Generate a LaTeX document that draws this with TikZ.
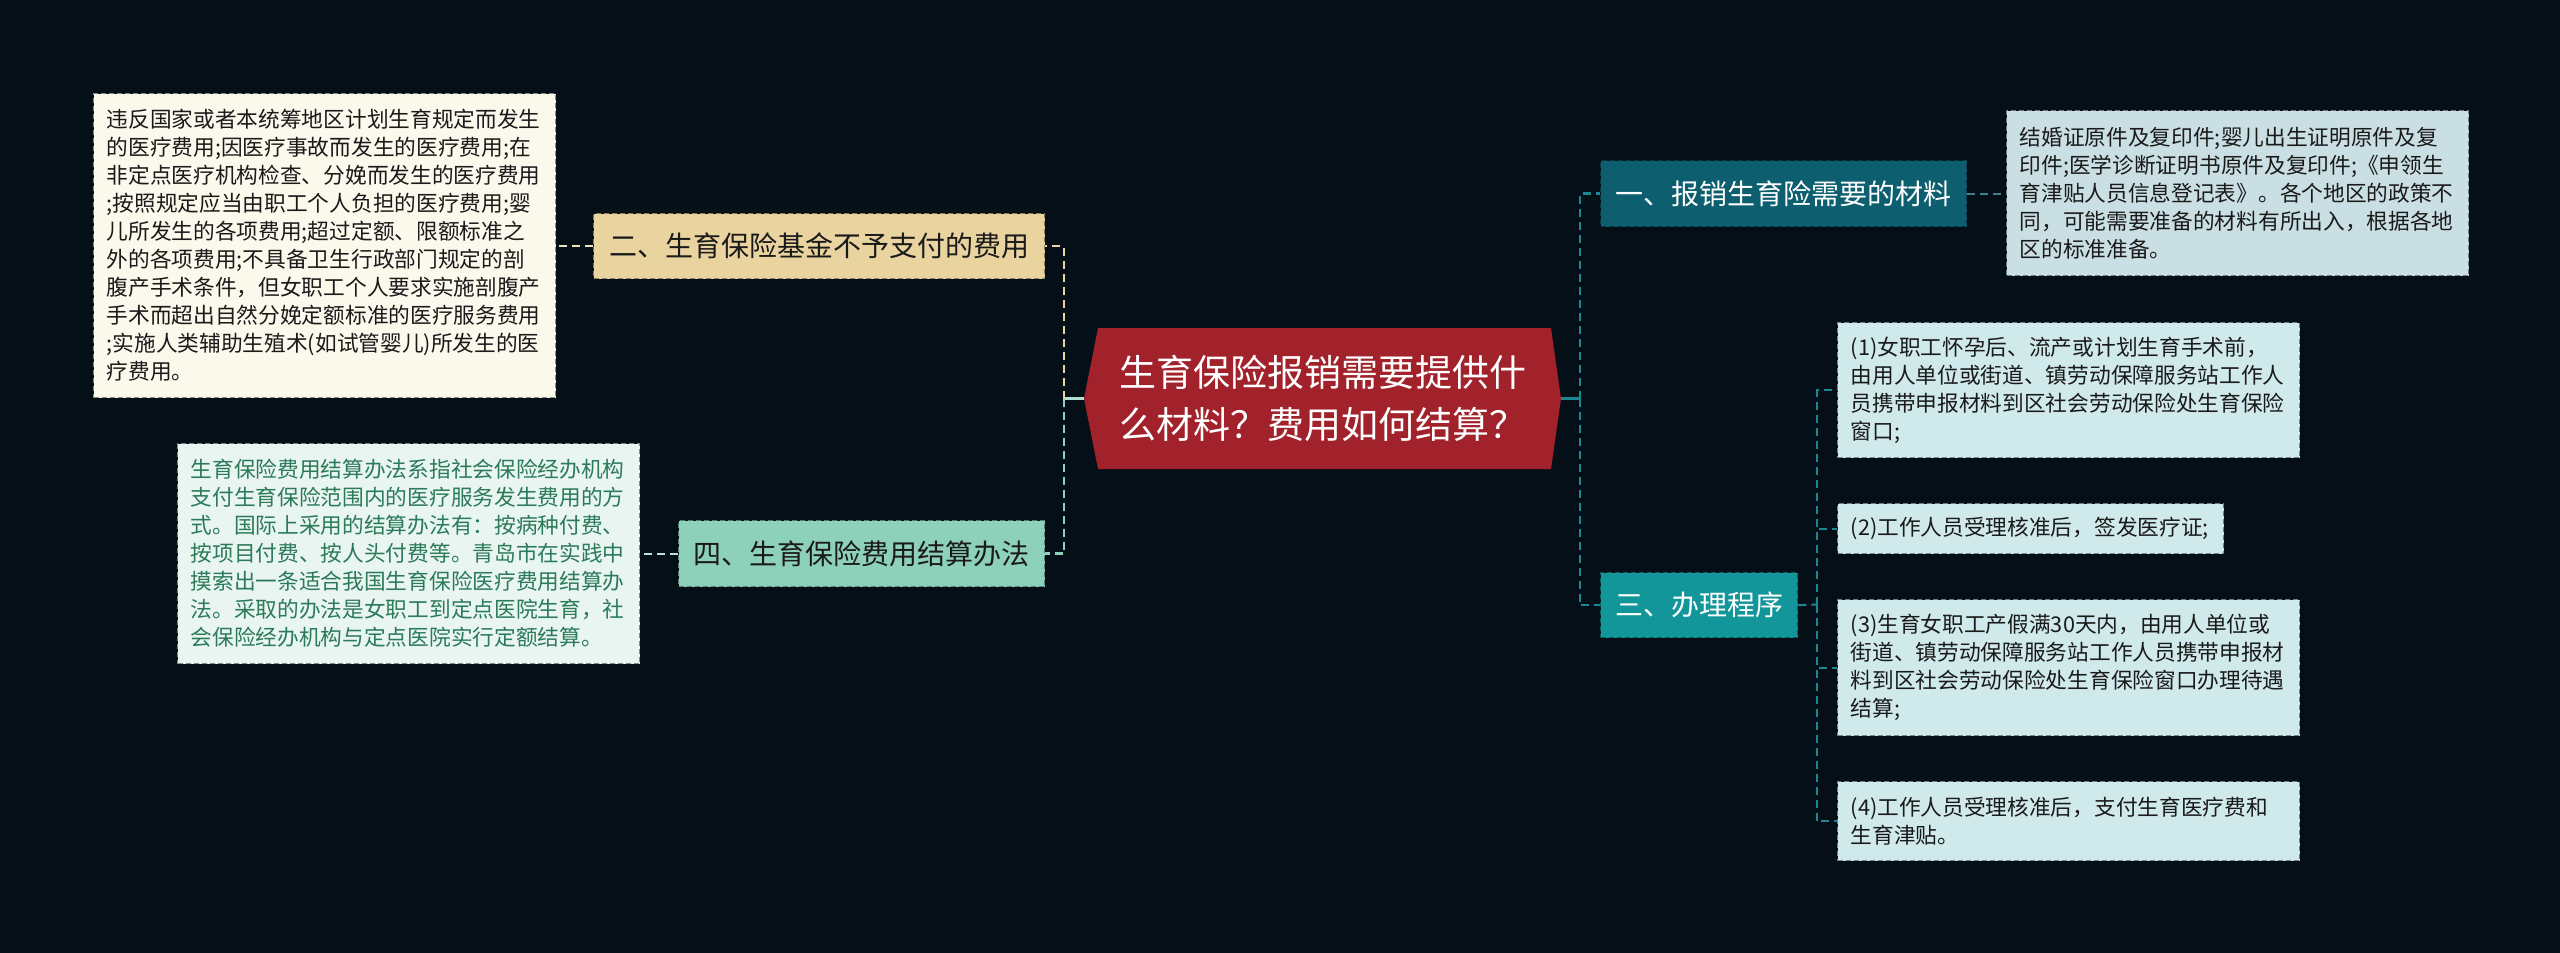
\documentclass[tikz,border=0pt]{standalone}
\usepackage{fontspec}
\newfontfamily\cjk{Noto Sans CJK SC}
\definecolor{bgc}{HTML}{050F18}
\definecolor{cred}{HTML}{A1222A}
\definecolor{ltfill}{HTML}{FBF8EC}
\definecolor{lbfill}{HTML}{E9F5F1}
\definecolor{lbtext}{HTML}{2B7A5A}
\definecolor{rtfill}{HTML}{CADFE3}
\definecolor{kfill}{HTML}{D0E9EB}
\definecolor{ytwo}{HTML}{E9D4A0}
\definecolor{mfour}{HTML}{8ED1BB}
\definecolor{tone}{HTML}{0D5F6F}
\definecolor{tthree}{HTML}{13969A}
\definecolor{lkT}{HTML}{1D8791}
\definecolor{dtext}{HTML}{1A1A1A}
\begin{document}
\begin{tikzpicture}[x=1pt,y=-1pt,
  leaf/.style={draw=#1!55!black, dash pattern=on 5pt off 3pt, line width=1.3pt,
    fill=#1, anchor=north west, align=left, inner xsep=13pt, inner ysep=0pt,
    text=dtext, font=\cjk\fontsize{21.7}{28}\selectfont},
  branch/.style={draw=#1!60!black, dash pattern=on 5pt off 3pt, line width=1.3pt,
    fill=#1, anchor=north west, align=center, inner sep=0pt,
    text=dtext, font=\cjk\fontsize{28}{34}\selectfont},
  link/.style={draw=#1, line width=2.6pt, dash pattern=on 8pt off 5pt},
  thinlink/.style={draw=#1, line width=2pt, dash pattern=on 8pt off 5pt},
  stub/.style={draw=#1, line width=2.6pt}
]
\fill[bgc] (0,0) rectangle (2560,953);
\useasboundingbox (0,0) rectangle (2560,953);

% central topic
\fill[cred] (1084,398.5) -- (1098,328) -- (1551,328) -- (1561,398.5) -- (1551,469) -- (1098,469) -- cycle;
\node[align=center, text=white, font=\cjk\fontsize{37}{52}\selectfont,
  minimum width=477pt, minimum height=141pt, inner sep=0pt] (c) at (1322.5,398.5)
  {生育保险报销需要提供什\\么材料？费用如何结算？};

% branches
\node[branch=ytwo, minimum width=451pt, minimum height=65pt] (n2) at (593,213) {二、生育保险基金不予支付的费用};
\node[branch=mfour, minimum width=366pt, minimum height=66pt] (n4) at (678,520) {四、生育保险费用结算办法};
\node[branch=tone, text=white, minimum width=366pt, minimum height=66pt] (n1) at (1600,160) {一、报销生育险需要的材料};
\node[branch=tthree, text=white, minimum width=197pt, minimum height=65pt] (n3) at (1600,572) {三、办理程序};

% leaves
\node[leaf=ltfill, minimum width=460pt, minimum height=304pt, text width=436pt] (lt) at (93,93)
{违反国家或者本统筹地区计划生育规定而发生\\
的医疗费用;因医疗事故而发生的医疗费用;在\\
非定点医疗机构检查、分娩而发生的医疗费用\\
;按照规定应当由职工个人负担的医疗费用;婴\\
儿所发生的各项费用;超过定额、限额标准之\\
外的各项费用;不具备卫生行政部门规定的剖\\
腹产手术条件，但女职工个人要求实施剖腹产\\
手术而超出自然分娩定额标准的医疗服务费用\\
;实施人类辅助生殖术(如试管婴儿)所发生的医\\
疗费用。};

\node[leaf=lbfill, text=lbtext, minimum width=461pt, minimum height=220pt, text width=436pt] (lb) at (177,443)
{生育保险费用结算办法系指社会保险经办机构\\
支付生育保险范围内的医疗服务发生费用的方\\
式。国际上采用的结算办法有：按病种付费、\\
按项目付费、按人头付费等。青岛市在实践中\\
摸索出一条适合我国生育保险医疗费用结算办\\
法。采取的办法是女职工到定点医院生育，社\\
会保险经办机构与定点医院实行定额结算。};

\node[leaf=rtfill, minimum width=461pt, minimum height=165pt, text width=436pt] (rt) at (2006,110)
{结婚证原件及复印件;婴儿出生证明原件及复\\
印件;医学诊断证明书原件及复印件;《申领生\\
育津贴人员信息登记表》。各个地区的政策不\\
同，可能需要准备的材料有所出入，根据各地\\
区的标准准备。};

\node[leaf=kfill, minimum width=461pt, minimum height=135pt, text width=436pt] (k1) at (1837,322)
{(1)女职工怀孕后、流产或计划生育手术前，\\
由用人单位或街道、镇劳动保障服务站工作人\\
员携带申报材料到区社会劳动保险处生育保险\\
窗口;};
\node[leaf=kfill, minimum width=385pt, minimum height=50pt, text width=360pt] (k2) at (1837,503)
{(2)工作人员受理核准后，签发医疗证;};
\node[leaf=kfill, minimum width=461pt, minimum height=136pt, text width=436pt] (k3) at (1837,599)
{(3)生育女职工产假满30天内，由用人单位或\\
街道、镇劳动保障服务站工作人员携带申报材\\
料到区社会劳动保险处生育保险窗口办理待遇\\
结算;};
\node[leaf=kfill, minimum width=461pt, minimum height=79pt, text width=436pt] (k4) at (1837,781)
{(4)工作人员受理核准后，支付生育医疗费和\\
生育津贴。};

% junctions
\coordinate (jL) at (1064,398.5);
\coordinate (jR) at (1580,398.5);
\coordinate (j3) at (1817,604.5);

% left connectors
\draw[stub=mfour!70!white] (c.west) -- (jL);
\draw[link=ytwo] (jL) |- (n2.east);
\draw[link=mfour] (jL) |- (n4.east);
\draw[thinlink=ytwo!70!white] (n2.west) -- (n2.west -| lt.east);
\draw[thinlink=mfour!60!white] (n4.west) -- (n4.west -| lb.east);

% right connectors
\draw[stub=lkT] (c.east) -- (jR);
\draw[link=lkT] (jR) |- (n1.west);
\draw[link=lkT] (jR) |- (n3.west);
\draw[thinlink=tone!80!white] (n1.east) -- (n1.east -| rt.west);
\draw[thinlink=lkT] (n3.east) -- (j3);
\draw[thinlink=lkT] (j3) |- (k1.west);
\draw[thinlink=lkT] (j3) |- (k2.west);
\draw[thinlink=lkT] (j3) |- (k3.west);
\draw[thinlink=lkT] (j3) |- (k4.west);
\end{tikzpicture}
\end{document}
